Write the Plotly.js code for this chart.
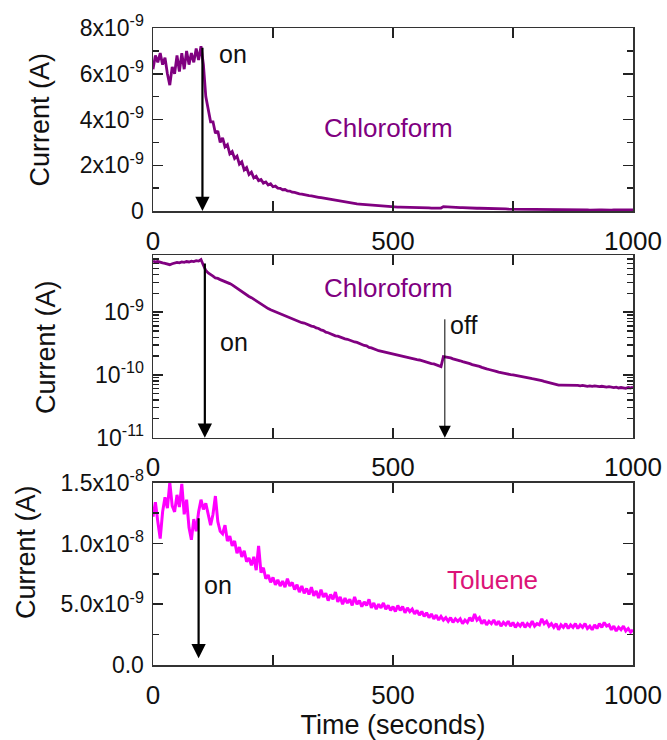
<!DOCTYPE html>
<html>
<head>
<meta charset="utf-8">
<script src="https://cdn.plot.ly/plotly-3.0.1.min.js"></script>
<style>html,body{margin:0;padding:0;background:#fff;}#chart{width:667px;height:740px;}</style>
</head>
<body>
<div id="chart"></div>
<script>
// Sampling step of the recorded traces (seconds)
const timeStep = 5;

// Chloroform, linear panel: current in nA (t = 0..1000 s, every 5 s)
const chloroformLinear_nA = [
  6.2, 6.8, 6.5, 6.9, 6.4, 6.7, 6.0, 5.5, 6.3, 6.0, 6.8, 6.1, 6.9, 6.2, 7.0, 6.4, 6.9, 6.5, 7.1, 6.6, 7.2,
  6.4, 5.0, 4.5, 3.9, 3.9, 3.4, 3.5, 3.0, 3.2, 2.8, 2.9, 2.5, 2.6, 2.3, 2.4, 2.05, 2.15, 1.8, 1.9, 1.6,
  1.7, 1.45, 1.52, 1.33, 1.38, 1.22, 1.27, 1.14, 1.19, 1.06, 1.09, 1.0, 0.99, 0.93, 0.94, 0.88, 0.87, 0.82, 0.81, 0.77,
  0.75, 0.74, 0.71, 0.69, 0.67, 0.66, 0.63, 0.62, 0.6, 0.58, 0.56, 0.55, 0.52, 0.51, 0.48, 0.47, 0.44, 0.43, 0.4, 0.38,
  0.36, 0.35, 0.33, 0.33, 0.31, 0.3, 0.29, 0.28, 0.27, 0.26, 0.25, 0.24, 0.23, 0.23, 0.22, 0.21, 0.2, 0.2, 0.19, 0.18,
  0.18, 0.17, 0.17, 0.17, 0.16, 0.16, 0.16, 0.15, 0.15, 0.15, 0.15, 0.14, 0.14, 0.14, 0.14, 0.13, 0.13, 0.13, 0.13, 0.13,
  0.19, 0.18, 0.18, 0.17, 0.17, 0.16, 0.16, 0.15, 0.15, 0.14, 0.14, 0.13, 0.13, 0.13, 0.12, 0.12, 0.12, 0.11, 0.11, 0.11,
  0.1, 0.1, 0.1, 0.09, 0.09, 0.09, 0.09, 0.08, 0.08, 0.08, 0.08, 0.08, 0.07, 0.07, 0.07, 0.07, 0.07, 0.07, 0.06, 0.06,
  0.06, 0.06, 0.06, 0.06, 0.06, 0.06, 0.06, 0.06, 0.05, 0.05, 0.05, 0.05, 0.05, 0.05, 0.05, 0.05, 0.05, 0.05, 0.05, 0.05,
  0.05, 0.04, 0.05, 0.05, 0.04, 0.05, 0.05, 0.04, 0.05, 0.05, 0.04, 0.05, 0.05, 0.04, 0.05, 0.05, 0.04, 0.05, 0.05, 0.05
];

// Chloroform, log panel: current in nA
const chloroformLog_nA = [
  6.5, 6.3, 6.4, 6.2, 6.1, 6.0, 5.8, 5.7, 5.9, 6.0, 6.2, 6.1, 6.3, 6.2, 6.4, 6.3, 6.5, 6.4, 6.6, 6.5, 6.9,
  5.6, 4.6, 4.2, 3.9, 3.75, 3.5, 3.45, 3.3, 3.2, 3.05, 2.98, 2.85, 2.72, 2.55, 2.45, 2.25, 2.15, 2.0, 1.9, 1.78,
  1.7, 1.6, 1.5, 1.42, 1.33, 1.26, 1.2, 1.14, 1.09, 1.05, 1.01, 0.97, 0.94, 0.91, 0.88, 0.85, 0.82, 0.79, 0.76, 0.73,
  0.71, 0.68, 0.67, 0.64, 0.63, 0.6, 0.59, 0.56, 0.55, 0.52, 0.51, 0.48, 0.47, 0.45, 0.44, 0.42, 0.415, 0.4, 0.39, 0.375,
  0.37, 0.355, 0.35, 0.335, 0.33, 0.315, 0.31, 0.295, 0.29, 0.275, 0.27, 0.258, 0.252, 0.243, 0.238, 0.23, 0.227, 0.22, 0.218, 0.212,
  0.21, 0.204, 0.202, 0.196, 0.193, 0.188, 0.186, 0.181, 0.179, 0.175, 0.173, 0.168, 0.166, 0.16, 0.158, 0.152, 0.15, 0.144, 0.142, 0.136,
  0.196, 0.194, 0.19, 0.187, 0.18, 0.177, 0.17, 0.168, 0.163, 0.16, 0.153, 0.151, 0.146, 0.144, 0.139, 0.137, 0.132, 0.13, 0.125, 0.122,
  0.12, 0.116, 0.114, 0.111, 0.11, 0.107, 0.105, 0.102, 0.101, 0.1, 0.098, 0.096, 0.095, 0.093, 0.091, 0.09, 0.088, 0.087, 0.086, 0.085,
  0.083, 0.081, 0.079, 0.077, 0.075, 0.073, 0.071, 0.07, 0.069, 0.069, 0.069, 0.068, 0.069, 0.068, 0.068, 0.069, 0.068, 0.067, 0.068, 0.067,
  0.066, 0.067, 0.066, 0.067, 0.066, 0.065, 0.066, 0.065, 0.064, 0.065, 0.064, 0.063, 0.064, 0.062, 0.063, 0.062, 0.061, 0.063, 0.062, 0.064
];

// Toluene panel: current in nA
const toluene_nA = [
  12.2, 13.4, 11.8, 10.4, 12.6, 13.8, 12.9, 15.0, 13.1, 12.6, 14.0, 13.0, 14.9, 12.4, 13.6, 11.3, 10.3, 12.0, 11.0, 12.6, 13.6,
  12.8, 13.3, 12.3, 11.5, 12.4, 13.9, 11.8, 11.0, 10.8, 11.5, 10.2, 10.6, 9.8, 10.2, 9.2, 9.7, 8.9, 9.4, 8.5, 8.8,
  8.2, 8.9, 7.8, 9.8, 7.6, 8.0, 7.1, 7.4, 6.8, 7.2, 6.6, 7.0, 6.5, 6.9, 6.4, 7.1, 6.5, 6.8, 6.2, 6.6,
  6.0, 6.5, 5.9, 6.3, 5.8, 6.4, 5.7, 6.1, 5.5, 6.2, 5.6, 5.9, 5.3, 5.8, 5.4, 6.0, 5.2, 5.6, 5.0, 5.5,
  5.1, 5.4, 4.9, 5.6, 5.0, 5.3, 4.8, 5.2, 4.9, 5.4, 4.7, 5.1, 4.6, 5.0, 4.7, 5.1, 4.6, 4.9, 4.5, 4.8,
  4.4, 4.9, 4.5, 4.8, 4.3, 4.7, 4.4, 4.6, 4.2, 4.5, 4.1, 4.4, 4.0, 4.3, 3.9, 4.2, 3.8, 4.1, 3.7, 4.0,
  3.7, 3.9, 3.6, 3.9, 3.5, 3.8, 3.6, 3.8, 3.4, 3.7, 3.5, 3.9, 3.6, 4.2, 3.7, 3.9, 3.4, 3.7, 3.3, 3.6,
  3.4, 3.7, 3.3, 3.6, 3.2, 3.5, 3.3, 3.6, 3.2, 3.5, 3.1, 3.4, 3.2, 3.5, 3.1, 3.4, 3.2, 3.6, 3.2, 3.4,
  3.3, 3.8, 3.4, 3.6, 3.2, 3.4, 3.1, 3.4, 2.9, 3.3, 3.1, 3.4, 3.0, 3.3, 3.1, 3.4, 3.0, 3.3, 3.1, 3.4,
  3.0, 3.2, 2.9, 3.3, 3.0, 3.4, 3.1, 3.5, 3.2, 3.3, 2.9, 3.2, 2.8, 3.1, 2.9, 3.2, 2.8, 3.0, 2.7, 2.9
];

// Event times (s)
const onTimes = [103, 108, 95];
const offTime = 608;

// Tick labels
const xTicks = [0, 500, 1000];
const xTickText = ['0', '500', '1000'];
const y1Ticks = [0, 2e-9, 4e-9, 6e-9, 8e-9];
const y1TickText = ['0', '2x10<sup>-9</sup>', '4x10<sup>-9</sup>', '6x10<sup>-9</sup>', '8x10<sup>-9</sup>'];
const y2Ticks = [1e-11, 1e-10, 1e-9];
const y2TickText = ['10<sup>-11</sup>', '10<sup>-10</sup>', '10<sup>-9</sup>'];
const y3Ticks = [0, 5e-9, 1e-8, 1.5e-8];
const y3TickText = ['0.0', '5.0x10<sup>-9</sup>', '1.0x10<sup>-8</sup>', '1.5x10<sup>-8</sup>'];

const toAmps = a => a.map(v => v * 1e-9);
const timesFor = a => a.map((_, i) => i * timeStep);

const purple = '#800080';
const magenta = '#FF00FF';
const font = 'Liberation Sans, Arial, sans-serif';

const traces = [
  {x: timesFor(chloroformLinear_nA), y: toAmps(chloroformLinear_nA), xaxis: 'x', yaxis: 'y',
   mode: 'lines', line: {color: purple, width: 2.8}, name: 'Chloroform'},
  {x: timesFor(chloroformLog_nA), y: toAmps(chloroformLog_nA), xaxis: 'x2', yaxis: 'y2',
   mode: 'lines', line: {color: purple, width: 2.8}, name: 'Chloroform (log)'},
  {x: timesFor(toluene_nA), y: toAmps(toluene_nA), xaxis: 'x3', yaxis: 'y3',
   mode: 'lines', line: {color: magenta, width: 3}, name: 'Toluene'}
];

// minor tick positions for log axis
const logMinor = [];
for (let k = -11; k <= -9; k++) for (let m = 2; m <= 9; m++) logMinor.push(m * Math.pow(10, k));

const xBase = (anchor) => ({
  domain: [0, 1], anchor: anchor, range: [0, 1000],
  tickmode: 'array', tickvals: xTicks, ticktext: xTickText,
  ticks: 'inside', ticklen: 10, tickwidth: 1.5, tickcolor: '#222',
  minor: {tickmode: 'array', tickvals: [250, 750], ticks: 'inside', ticklen: 10, tickwidth: 1.5, tickcolor: '#222'},
  showline: true, linecolor: '#333', linewidth: 1.5, mirror: 'allticks',
  showgrid: false, zeroline: false,
  tickfont: {family: font, size: 26, color: '#111'}, ticklabelstandoff: 6
});
const yBase = (anchor, dom) => ({
  domain: dom, anchor: anchor,
  ticks: 'inside', ticklen: 10, tickwidth: 1.5, tickcolor: '#222',
  showline: true, linecolor: '#333', linewidth: 1.5, mirror: 'allticks',
  showgrid: false, zeroline: false,
  tickfont: {family: font, size: 23, color: '#111'}, ticklabelstandoff: 3
});

const layout = {
  width: 667, height: 740,
  margin: {l: 153, r: 34, t: 28, b: 75},
  paper_bgcolor: '#fff', plot_bgcolor: '#fff',
  showlegend: false,
  font: {family: font, color: '#111'},
  xaxis: xBase('y'),
  xaxis2: xBase('y2'),
  xaxis3: Object.assign(xBase('y3'), {title: {text: 'Time (seconds)', font: {family: font, size: 27, color: '#111'}, standoff: 8}}),
  yaxis: Object.assign(yBase('x', [0.7127, 1]), {
    range: [0, 8e-9], tickmode: 'array', tickvals: y1Ticks, ticktext: y1TickText,
    minor: {tickmode: 'array', tickvals: [1e-9, 3e-9, 5e-9, 7e-9], ticks: 'inside', ticklen: 6, tickwidth: 1.5, tickcolor: '#222'}
  }),
  yaxis2: Object.assign(yBase('x2', [0.3568, 0.6436]), {
    type: 'log', range: [-11, -8.09], tickmode: 'array', tickvals: y2Ticks, ticktext: y2TickText,
    minor: {tickmode: 'array', tickvals: logMinor, ticks: 'inside', ticklen: 6, tickwidth: 1.2, tickcolor: '#222'}
  }),
  yaxis3: Object.assign(yBase('x3', [0, 0.2862]), {
    range: [0, 1.5e-8], tickmode: 'array', tickvals: y3Ticks, ticktext: y3TickText,
    minor: {tickmode: 'array', tickvals: [2.5e-9, 7.5e-9, 1.25e-8], ticks: 'inside', ticklen: 6, tickwidth: 1.5, tickcolor: '#222'}
  }),
  annotations: [
    // y-axis titles
    {xref: 'paper', yref: 'paper', x: -0.236, y: 0.856, text: 'Current (A)', textangle: -90, showarrow: false,
     font: {family: font, size: 27, color: '#111'}, xanchor: 'center', yanchor: 'middle'},
    {xref: 'paper', yref: 'paper', x: -0.224, y: 0.50, text: 'Current (A)', textangle: -90, showarrow: false,
     font: {family: font, size: 27, color: '#111'}, xanchor: 'center', yanchor: 'middle'},
    {xref: 'paper', yref: 'paper', x: -0.265, y: 0.177, text: 'Current (A)', textangle: -90, showarrow: false,
     font: {family: font, size: 27, color: '#111'}, xanchor: 'center', yanchor: 'middle'},
    // panel 1
    {xref: 'x', yref: 'y', x: onTimes[0], y: 0, axref: 'x', ayref: 'y', ax: onTimes[0], ay: 7.2e-9, text: '',
     showarrow: true, arrowhead: 2, arrowsize: 1.3, arrowwidth: 2.2, arrowcolor: '#000', standoff: 0, startstandoff: 0},
    {xref: 'x', yref: 'y', x: 133, y: 6.85e-9, text: 'on', showarrow: false, xanchor: 'left', yanchor: 'middle',
     font: {family: font, size: 25, color: '#111'}},
    {xref: 'x', yref: 'y', x: 490, y: 3.64e-9, text: 'Chloroform', showarrow: false, xanchor: 'center', yanchor: 'middle',
     font: {family: font, size: 26, color: purple}},
    // panel 2
    {xref: 'x2', yref: 'y2', x: onTimes[1], y: -11, axref: 'x2', ayref: 'y2', ax: onTimes[1], ay: -8.2, text: '',
     showarrow: true, arrowhead: 2, arrowsize: 1.3, arrowwidth: 2.2, arrowcolor: '#000', standoff: 0, startstandoff: 0},
    {xref: 'x2', yref: 'y2', x: 135, y: -9.47, text: 'on', showarrow: false, xanchor: 'left', yanchor: 'middle',
     font: {family: font, size: 25, color: '#111'}},
    {xref: 'x2', yref: 'y2', x: offTime, y: -11, axref: 'x2', ayref: 'y2', ax: offTime, ay: -9.09, text: '',
     showarrow: true, arrowhead: 2, arrowsize: 2.4, arrowwidth: 1, arrowcolor: '#000', standoff: 0, startstandoff: 0},
    {xref: 'x2', yref: 'y2', x: 615, y: -9.2, text: 'off', showarrow: false, xanchor: 'left', yanchor: 'middle',
     font: {family: font, size: 25, color: '#111'}},
    {xref: 'x2', yref: 'y2', x: 490, y: -8.61, text: 'Chloroform', showarrow: false, xanchor: 'center', yanchor: 'middle',
     font: {family: font, size: 26, color: purple}},
    // panel 3
    {xref: 'x3', yref: 'y3', x: onTimes[2], y: 0.55e-9, axref: 'x3', ayref: 'y3', ax: onTimes[2], ay: 12.2e-9, text: '',
     showarrow: true, arrowhead: 2, arrowsize: 1.3, arrowwidth: 2.2, arrowcolor: '#000', standoff: 0, startstandoff: 0},
    {xref: 'x3', yref: 'y3', x: 102, y: 6.6e-9, text: 'on', showarrow: false, xanchor: 'left', yanchor: 'middle',
     font: {family: font, size: 25, color: '#111'}},
    {xref: 'x3', yref: 'y3', x: 708, y: 7.0e-9, text: 'Toluene', showarrow: false, xanchor: 'center', yanchor: 'middle',
     font: {family: font, size: 26, color: '#DC1478'}}
  ]
};

Plotly.newPlot('chart', traces, layout, {staticPlot: true, displayModeBar: false});
</script>
</body>
</html>
